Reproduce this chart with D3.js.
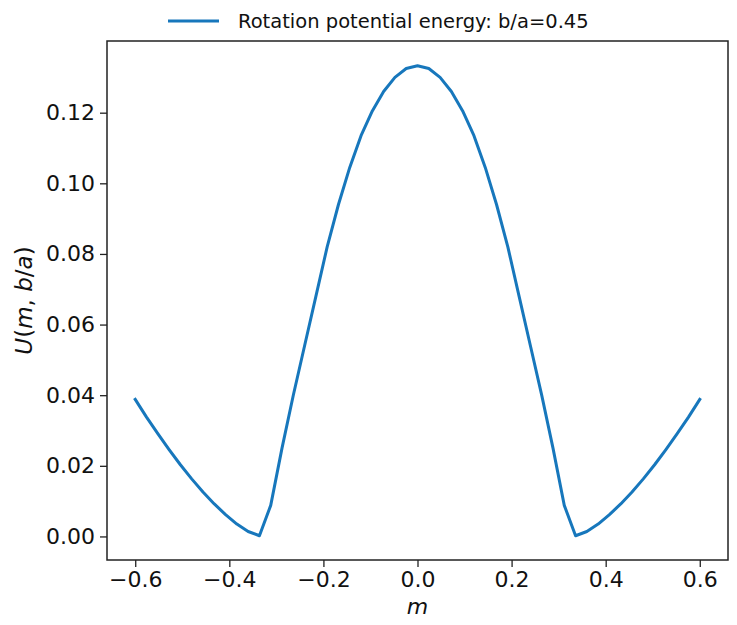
<!DOCTYPE html>
<html><head><meta charset="utf-8">
<script src="https://cdn.jsdelivr.net/npm/d3@7"></script>
<style>
body{margin:0;background:#fff;}
svg{display:block;font-family:"DejaVu Sans",sans-serif;}
</style></head>
<body>
<svg id="chart" width="737" height="625"></svg>
<script>
// m grid (51 points, step 0.024)
const mValues = [-0.6,-0.576,-0.552,-0.528,-0.504,-0.48,-0.456,-0.432,-0.408,-0.384,-0.36,-0.336,
  -0.312,-0.288,-0.264,-0.24,-0.216,-0.192,-0.168,-0.144,-0.12,-0.096,-0.072,-0.048,-0.024,0,
  0.024,0.048,0.072,0.096,0.12,0.144,0.168,0.192,0.216,0.24,0.264,0.288,0.312,
  0.336,0.36,0.384,0.408,0.432,0.456,0.48,0.504,0.528,0.552,0.576,0.6];
const uValues = [0.0388,0.0338,0.0291,0.0246,0.0203,0.0163,0.0126,0.0092,0.0062,0.0035,0.0014,0.0002,
  0.0088,0.0250,0.0400,0.0540,0.0680,0.0820,0.0940,0.1045,0.1135,0.1205,0.1260,0.1300,0.1325,0.1333,
  0.1325,0.1300,0.1260,0.1205,0.1135,0.1045,0.0940,0.0820,0.0680,0.0540,0.0400,0.0250,0.0088,
  0.0002,0.0014,0.0035,0.0062,0.0092,0.0126,0.0163,0.0203,0.0246,0.0291,0.0338,0.0388];
const xTicks = [-0.6,-0.4,-0.2,0.0,0.2,0.4,0.6];
const yTicks = [0.00,0.02,0.04,0.06,0.08,0.10,0.12];
const seriesLabel = "Rotation potential energy: b/a=0.45";

const svg = d3.select("#chart");
const L = 107, R = 728, T = 41, B = 560;
const x = d3.scaleLinear().domain([-0.66, 0.66]).range([L, R]);
const y = d3.scaleLinear().domain([-0.00667, 0.1403]).range([B, T]);
const color = "#1777bc";

const data = mValues.map((m, i) => ({m, u: uValues[i]}));

svg.append("path").datum(data)
  .attr("fill","none").attr("stroke",color).attr("stroke-width",3)
  .attr("stroke-linejoin","round").attr("stroke-linecap","square")
  .attr("d", d3.line().x(d => x(d.m)).y(d => y(d.u)));

const xAxis = svg.append("g").attr("transform",`translate(0,${B})`)
  .call(d3.axisBottom(x).tickValues(xTicks).tickSize(7).tickPadding(4)
    .tickFormat(d => d3.format(".1f")(d).replace("-", "\u2212")));
const yAxis = svg.append("g").attr("transform",`translate(${L},0)`)
  .call(d3.axisLeft(y).tickValues(yTicks).tickSize(7).tickPadding(5)
    .tickFormat(d3.format(".2f")));
[xAxis, yAxis].forEach(g => {
  g.select(".domain").remove();
  g.selectAll("line").attr("stroke","#222").attr("stroke-width",1.3);
  g.selectAll("text").attr("font-size",22).attr("fill","#111")
   .attr("font-family","'DejaVu Sans',sans-serif");
});

svg.append("rect").attr("x",L).attr("y",T).attr("width",R-L).attr("height",B-T)
  .attr("fill","none").attr("stroke","#222").attr("stroke-width",1.5);

svg.append("text").attr("x",(L+R)/2).attr("y",614).attr("text-anchor","middle")
  .attr("font-size",22).attr("font-style","italic").attr("fill","#111").text("m");

svg.append("text").attr("transform",`translate(32,${(T+B)/2}) rotate(-90)`)
  .attr("text-anchor","middle").attr("font-size",23).attr("fill","#111")
  .html('<tspan font-style="italic">U</tspan>(<tspan font-style="italic">m</tspan>, <tspan font-style="italic">b</tspan>/<tspan font-style="italic">a</tspan>)');

const lg = svg.append("g");
lg.append("line").attr("x1",168).attr("x2",219).attr("y1",21).attr("y2",21)
  .attr("stroke",color).attr("stroke-width",3);
lg.append("text").attr("x",238).attr("y",28).attr("font-size",19.5).attr("fill","#111")
  .text(seriesLabel);
</script>
</body></html>
